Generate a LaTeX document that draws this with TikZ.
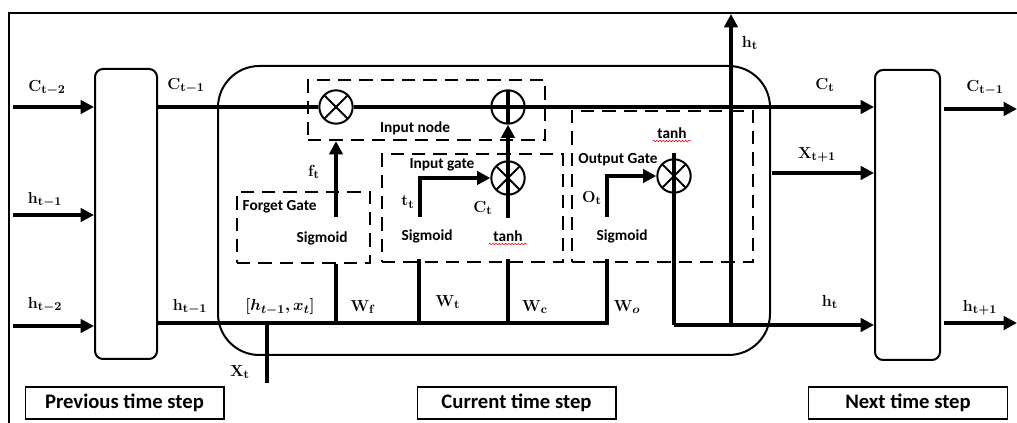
\documentclass[tikz,border=0pt]{standalone}
\usepackage[no-math]{fontspec}
\setmainfont{Carlito}
\usepackage{amsmath, amssymb}
\usepackage{tikz}
\usetikzlibrary{arrows.meta, fit, positioning, decorations.pathmorphing}

\begin{document}
\begin{tikzpicture}[x=0.75pt, y=-0.75pt,
    >={Triangle[length=10pt, width=10pt]},
    frame/.style={line width=1.6pt},
    cell/.style={draw, line width=1.5pt, rounded corners=6pt, inner sep=0pt},
    gatebox/.style={draw, line width=1.7pt, dash pattern=on 10pt off 6pt, inner sep=0pt},
    flow/.style={line width=2.8pt},
    stem/.style={line width=2.8pt},
    mul/.style={circle, draw, line width=1.5pt, minimum size=25pt, inner sep=0pt,
        path picture={\draw[line width=1.5pt]
            (path picture bounding box.north west) -- (path picture bounding box.south east)
            (path picture bounding box.south west) -- (path picture bounding box.north east);}},
    add/.style={circle, draw, line width=1.5pt, minimum size=25pt, inner sep=0pt,
        path picture={\draw[line width=2.8pt]
            (path picture bounding box.north) -- (path picture bounding box.south);}},
    vlab/.style={font=\fontsize{13}{15}\selectfont\boldmath},
    tlab/.style={font=\fontsize{11.5}{13}\selectfont\bfseries},
    steplab/.style={draw, line width=1pt, minimum width=149pt, minimum height=24pt,
        font=\fontsize{15.5}{18}\selectfont\bfseries},
    squiggle/.style={red, line width=0.4pt, decorate,
        decoration={snake, amplitude=0.6pt, segment length=2.4pt}}
]
    % 1. Page and outer frame
    \useasboundingbox (0,0) rectangle (1017,423);
    \draw[frame] (9,423) -- (9,13) -- (1017,13);

    % 2. The three time-step cells
    \node[cell, fit={(95,69) (157,359)}] (prev) {};
    \node[cell, rounded corners=31pt, fit={(218,66) (770,355)}] (cur) {};
    \node[cell, fit={(875,70) (940,360)}] (next) {};

    % 3. Dashed gate boxes
    \node[gatebox, fit={(308,80) (545,140)}] (inode) {};
    \node[gatebox, fit={(237,192) (370,263)}] (fgate) {};
    \node[gatebox, fit={(382,154) (563,262)}] (igate) {};
    \node[gatebox, fit={(572,111) (753,262)}] (ogate) {};

    % 4. Pointwise operators
    \node[mul] (mulF) at (336,107) {};
    \node[add] (addC) at (508,107) {};
    \node[mul] (mulI) at (508,178) {};
    \node[mul] (mulO) at (674,176) {};

    % 5. Texts inside the gates
    \node[tlab] (inlbl) at (415,128) {Input node};
    \node[tlab, anchor=west] (fglbl) at (238,207) {Forget Gate};
    \node[tlab] (sigF) at (322,238) {Sigmoid};
    \node[tlab] (iglbl) at (442,165) {Input gate};
    \node[tlab] (sigI) at (427,236) {Sigmoid};
    \node[tlab] (tanhI) at (508,236) {tanh};
    \node[tlab] (oglbl) at (618,160) {Output Gate};
    \node[tlab] (sigO) at (622,236) {Sigmoid};
    \node[tlab] (tanhO) at (672,133) {tanh};
    \draw[squiggle] ([yshift=-2pt]tanhI.base west) -- ([yshift=-2pt]tanhI.base east);
    \draw[squiggle] ([yshift=-2pt]tanhO.base west) -- ([yshift=-2pt]tanhO.base east);

    % 6. Signal labels
    \node[vlab] (lC2) at (47,88) {$\mathbf{C}_{\mathbf{t-2}}$};
    \node[vlab] (lh1) at (45,200) {$\mathbf{h}_{\mathbf{t-1}}$};
    \node[vlab] (lh2) at (45,305) {$\mathbf{h}_{\mathbf{t-2}}$};
    \node[vlab] (lCprev) at (186,86) {$\mathbf{C}_{\mathbf{t-1}}$};
    \node[vlab] (lhprev) at (190,307) {$\mathbf{h}_{\mathbf{t-1}}$};
    \node[vlab] (lcat) at (280,307) {$[h_{t-1},x_t]$};
    \node[vlab] (lXt) at (240,372) {$\mathbf{X}_{\mathbf{t}}$};
    \node[vlab] (lft) at (314,172) {$\mathbf{f}_{\mathbf{t}}$};
    \node[vlab] (ltt) at (408,202) {$\mathbf{t}_{\mathbf{t}}$};
    \node[vlab] (lCt) at (483,208) {$\mathbf{C}_{\mathbf{t}}$};
    \node[vlab] (lOt) at (592,198) {$\mathbf{O}_{\mathbf{t}}$};
    \node[vlab] (lWf) at (363,307) {$\mathbf{W}_{\mathbf{f}}$};
    \node[vlab] (lWt) at (448,302) {$\mathbf{W}_{\mathbf{t}}$};
    \node[vlab] (lWc) at (535,307) {$\mathbf{W}_{\mathbf{c}}$};
    \node[vlab] (lWo) at (627,307) {$\mathbf{W}_{o}$};
    \node[vlab] (lht) at (750,43) {$\mathbf{h}_{\mathbf{t}}$};
    \node[vlab] (lCnext) at (825,85) {$\mathbf{C}_{\mathbf{t}}$};
    \node[vlab] (lX1) at (817,155) {$\mathbf{X}_{\mathbf{t+1}}$};
    \node[vlab] (lhnext) at (830,302) {$\mathbf{h}_{\mathbf{t}}$};
    \node[vlab] (lCout) at (985,88) {$\mathbf{C}_{\mathbf{t-1}}$};
    \node[vlab] (lhout) at (980,308) {$\mathbf{h}_{\mathbf{t+1}}$};

    % 7. Free ends of the connectors
    \coordinate (inC) at (13,107);
    \coordinate (inH1) at (13,215);
    \coordinate (inH2) at (13,326);
    \coordinate (jWf) at (336,323);
    \coordinate (jWt) at (419,323);
    \coordinate (jWc) at (508,323);
    \coordinate (jWo) at (607,323);
    \coordinate (xt) at (267,383);
    \coordinate (ftS) at (336,217);
    \coordinate (ttS) at (420,217);
    \coordinate (ctS) at (508,218);
    \coordinate (otS) at (607,217);
    \coordinate (oTop) at (674,153);
    \coordinate (oBot) at (674,325);
    \coordinate (htJ) at (731,325);
    \coordinate (htTop) at (731,14);
    \coordinate (xNext) at (772,173);
    \coordinate (outC) at (1017,109);
    \coordinate (outH) at (1017,323);

    % 8. Inputs of the previous cell
    \draw[flow, ->] (inC) -- (inC -| prev.west);
    \draw[flow, ->] (inH1) -- (inH1 -| prev.west);
    \draw[flow, ->] (inH2) -- (inH2 -| prev.west);

    % 9. Cell state line
    \draw[flow] (prev.east |- mulF) -- (mulF.west);
    \draw[flow, ->] (mulF.east) -- (next.west |- mulF);

    % 10. Hidden state bus and gate stems
    \draw[stem] (prev.east |- jWo) -- (jWo) -- ([yshift=3pt]jWo |- ogate.south);
    \draw[stem] (jWf) -- (jWf |- fgate.south);
    \draw[stem] (jWt) -- ([yshift=3pt]jWt |- igate.south);
    \draw[stem] (jWc) -- ([yshift=3pt]jWc |- igate.south);
    \draw[stem] (xt) -- (xt |- jWo);

    % 11. Gate outputs
    \draw[flow, ->] (ftS) -- (ftS |- inode.south);
    \draw[flow, ->] (ttS) -- (ttS |- mulI) -- (mulI.west);
    \draw[flow, ->] (ctS) -- (addC.south);
    \draw[flow, ->] (otS) -- (otS |- mulO) -- (mulO.west);
    \draw[stem] (oTop) -- (oBot);
    \draw[flow, ->] (oBot) -- (next.west |- oBot);
    \draw[flow, ->] (htJ) -- (htTop);
    \draw[flow, ->] (xNext) -- (next.west |- xNext);

    % 12. Outputs of the next cell
    \draw[flow, ->] ([xshift=2pt]next.east |- outC) -- (outC);
    \draw[flow, ->] ([xshift=2pt]next.east |- outH) -- (outH);

    % 13. Time step captions
    \node[steplab] (prevstep) at (124.5,403) {Previous time step};
    \node[steplab] (curstep) at (516.5,403) {Current time step};
    \node[steplab] (nextstep) at (908,403) {Next time step};
\end{tikzpicture}
\end{document}
